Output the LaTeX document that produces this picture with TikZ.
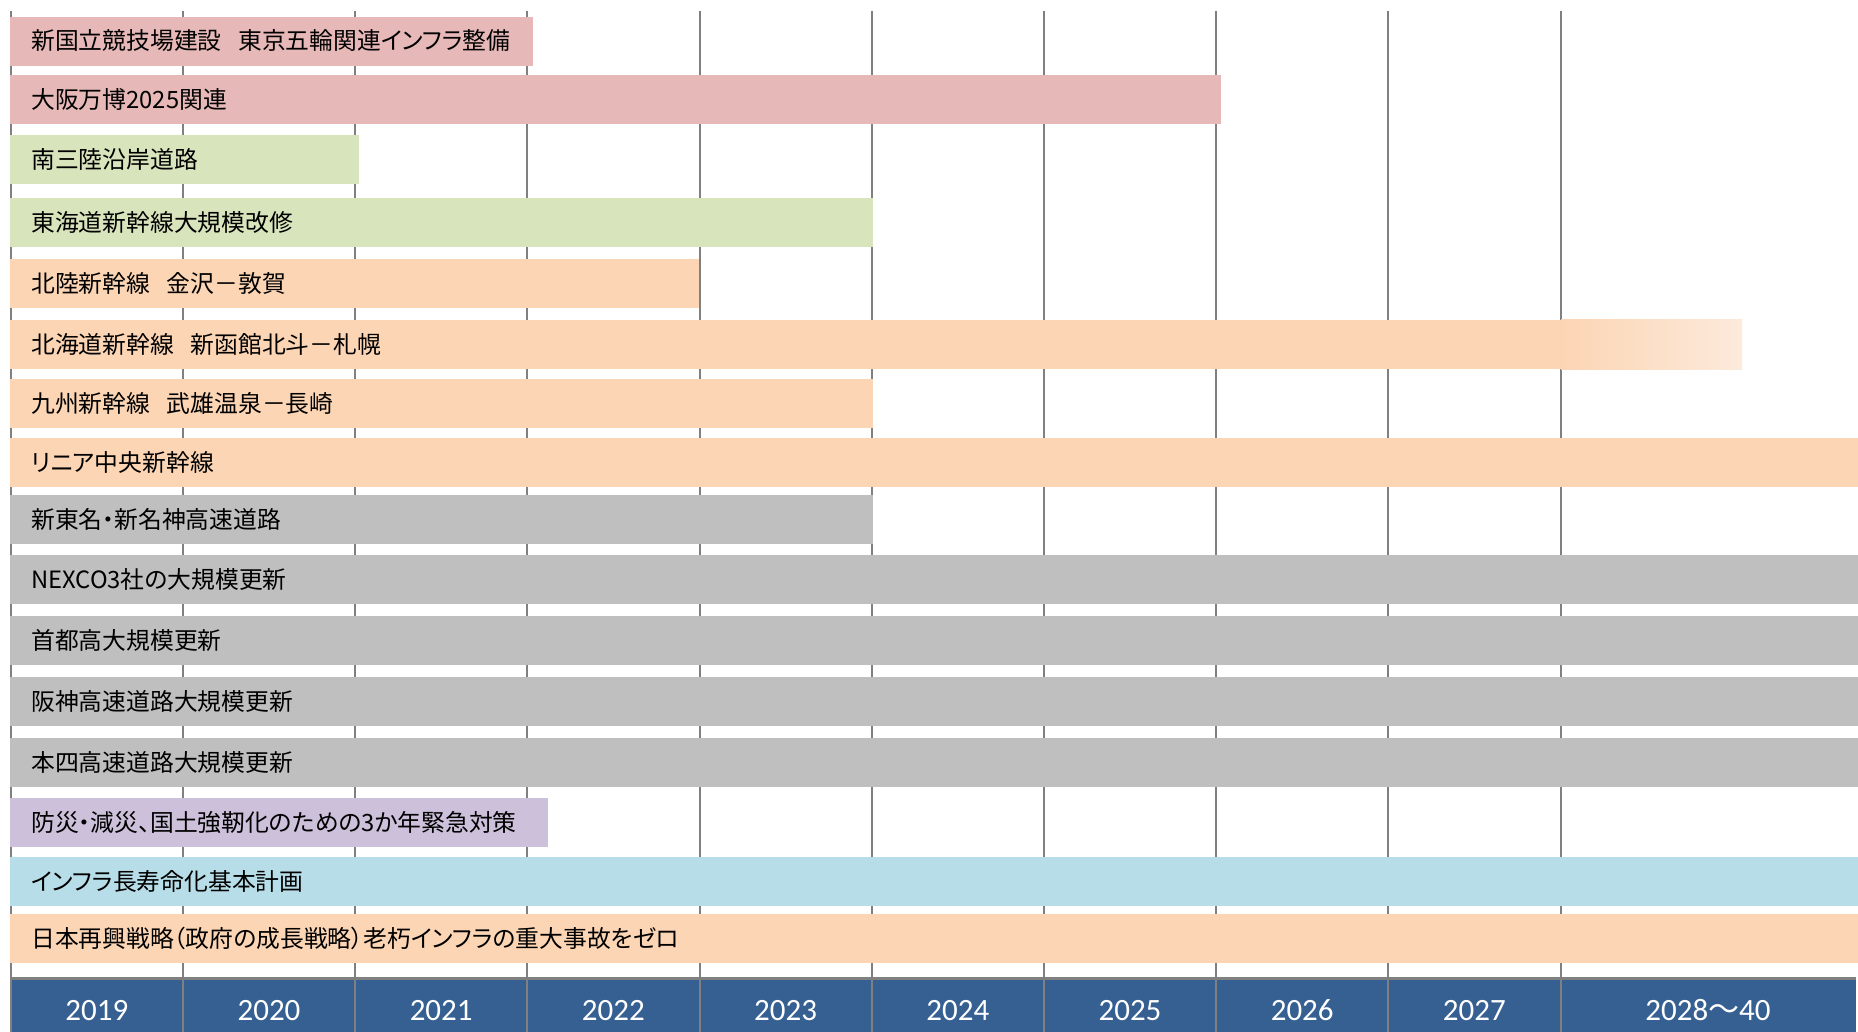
\documentclass[tikz,border=0pt]{standalone}
\usepackage{fontspec}
\newfontfamily\jp[RawFeature=+palt]{Noto Sans CJK JP}
\newfontfamily\yr{Carlito}

\definecolor{barpink}{HTML}{E6B8B7}
\definecolor{bargreen}{HTML}{D8E4BC}
\definecolor{barpeach}{HTML}{FCD5B4}
\definecolor{barpeachlt}{HTML}{FCEADB}
\definecolor{bargray}{HTML}{BFBFBF}
\definecolor{barlilac}{HTML}{CCC0DA}
\definecolor{barblue}{HTML}{B7DEE8}
\definecolor{yearband}{HTML}{366092}
\definecolor{gridgray}{HTML}{808080}

\begin{document}
\begin{tikzpicture}[x=1pt,y=-1pt,
  gridline/.style={gridgray, line width=2pt},
  bartext/.style={anchor=base west, inner sep=0pt, text=black, font=\jp\fontsize{23.8}{28}\selectfont},
  yeartext/.style={anchor=base, inner sep=0pt, text=white, font=\yr\fontsize{31}{36}\selectfont}]
\useasboundingbox (0,0) rectangle (1858,1032);
\fill[white] (0,0) rectangle (1858,1032);

% year band and grid
\fill[yearband] (10,979) rectangle (1856,1032);
\draw[gridline] (10.7,11)--(10.7,1032) (182.9,11)--(182.9,1032) (355.1,11)--(355.1,1032) (527.3,11)--(527.3,1032) (699.5,11)--(699.5,1032) (871.7,11)--(871.7,1032) (1043.9,11)--(1043.9,1032) (1216.1,11)--(1216.1,1032) (1388.3,11)--(1388.3,1032) (1560.5,11)--(1560.5,1032);
\draw[gridline, line width=2.5pt] (10,978.5)--(1856,978.5);

% bars
\coordinate (O) at (10,16.7);
\fill[barpink] (O) rectangle ++(522.7,49);
\path (O) ++(21,33.3) node[bartext] (olympic) {新国立競技場建設\hspace{0.7em}東京五輪関連インフラ整備};

\coordinate (O) at (10,75);
\fill[barpink] (O) rectangle ++(1211,49);
\path (O) ++(21,33.3) node[bartext] (expo) {大阪万博2025関連};

\coordinate (O) at (10,135);
\fill[bargreen] (O) rectangle ++(348.7,49);
\path (O) ++(21,33.3) node[bartext] (sanriku) {南三陸沿岸道路};

\coordinate (O) at (10,198);
\fill[bargreen] (O) rectangle ++(862.7,49);
\path (O) ++(21,33.3) node[bartext] (tokaido) {東海道新幹線大規模改修};

\coordinate (O) at (10,259);
\fill[barpeach] (O) rectangle ++(689,49);
\path (O) ++(21,33.3) node[bartext] (hokuriku) {北陸新幹線\hspace{0.7em}金沢－敦賀};

\coordinate (O) at (10,320);
\fill[barpeach] (O) rectangle ++(1552,49);
\shade[left color=barpeach, right color=barpeachlt] (1561,320) rectangle (1742,369);
\path (O) ++(21,33.3) node[bartext] (hokkaido) {北海道新幹線\hspace{0.7em}新函館北斗－札幌};

\coordinate (O) at (10,379);
\fill[barpeach] (O) rectangle ++(862.7,49);
\path (O) ++(21,33.3) node[bartext] (kyushu) {九州新幹線\hspace{0.7em}武雄温泉－長崎};

\coordinate (O) at (10,438);
\fill[barpeach] (O) rectangle ++(1848,49);
\path (O) ++(21,33.3) node[bartext] (linear) {リニア中央新幹線};

\coordinate (O) at (10,495);
\fill[bargray] (O) rectangle ++(862.7,49);
\path (O) ++(21,33.3) node[bartext] (shintomei) {新東名・新名神高速道路};

\coordinate (O) at (10,555);
\fill[bargray] (O) rectangle ++(1848,49);
\path (O) ++(21,33.3) node[bartext] (nexco) {NEXCO3社の大規模更新};

\coordinate (O) at (10,615.7);
\fill[bargray] (O) rectangle ++(1848,49);
\path (O) ++(21,33.3) node[bartext] (shutoko) {首都高大規模更新};

\coordinate (O) at (10,676.7);
\fill[bargray] (O) rectangle ++(1848,49);
\path (O) ++(21,33.3) node[bartext] (hanshin) {阪神高速道路大規模更新};

\coordinate (O) at (10,738);
\fill[bargray] (O) rectangle ++(1848,49);
\path (O) ++(21,33.3) node[bartext] (honshi) {本四高速道路大規模更新};

\coordinate (O) at (10,798);
\fill[barlilac] (O) rectangle ++(537.7,49);
\path (O) ++(21,33.3) node[bartext] (bousai) {防災・減災、国土強靭化のための3か年緊急対策};

\coordinate (O) at (10,857);
\fill[barblue] (O) rectangle ++(1848,49);
\path (O) ++(21,33.3) node[bartext] (choju) {インフラ長寿命化基本計画};

\coordinate (O) at (10,914.3);
\fill[barpeach] (O) rectangle ++(1848,49);
\path (O) ++(21,33.3) node[bartext] (saiko) {日本再興戦略（政府の成長戦略）老朽インフラの重大事故をゼロ};

% years
\node[yeartext] (y2019) at (96.8,1020) {2019};
\node[yeartext] (y2020) at (269,1020) {2020};
\node[yeartext] (y2021) at (441.2,1020) {2021};
\node[yeartext] (y2022) at (613.4,1020) {2022};
\node[yeartext] (y2023) at (785.6,1020) {2023};
\node[yeartext] (y2024) at (957.8,1020) {2024};
\node[yeartext] (y2025) at (1130,1020) {2025};
\node[yeartext] (y2026) at (1302.2,1020) {2026};
\node[yeartext] (y2027) at (1474.4,1020) {2027};
\node[yeartext] (y2028) at (1708,1020) {2028{\jp 〜}40};
\end{tikzpicture}
\end{document}
